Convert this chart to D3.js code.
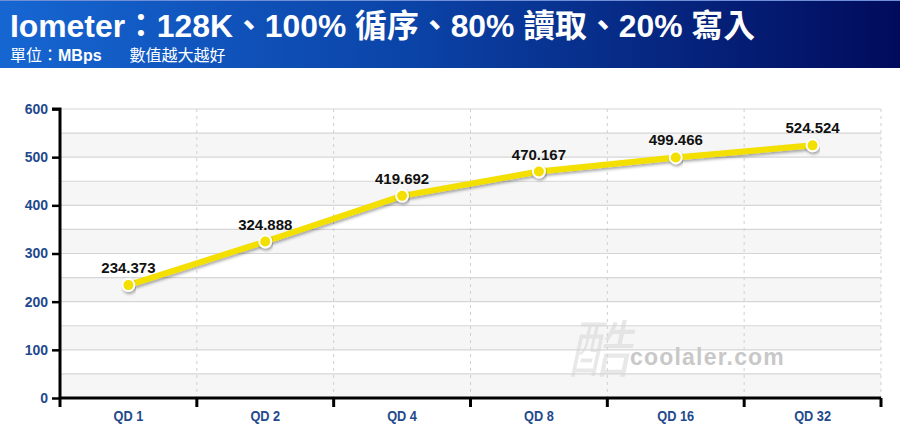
<!DOCTYPE html>
<html><head><meta charset="utf-8">
<script src="https://cdn.jsdelivr.net/npm/d3@7/dist/d3.min.js"></script>
<style>
body{margin:0;background:#fff;}
svg{display:block;}
</style></head>
<body>
<svg id="chart" width="900" height="430"></svg>
<script>
const categories = ["QD 1","QD 2","QD 4","QD 8","QD 16","QD 32"];
const values = [234.373, 324.888, 419.692, 470.167, 499.466, 524.524];
const yTicks = [0,100,200,300,400,500,600];
const titleText = "Iometer：128K、100% 循序、80% 讀取、20% 寫入";
const subtitleA = "單位：";
const subtitleB = "MBps";
const subtitleC = "數值越大越好";

const svg = d3.select("#chart");
const W = 900, H = 430;
const m = {left:60, right:19, top:109, bottom:32};
const iw = W - m.left - m.right, ih = H - m.top - m.bottom;
const FONT = "'Liberation Sans',Arial,'Noto Sans CJK TC',sans-serif";

const defs = svg.append("defs");
const grad = defs.append("linearGradient").attr("id","hdr").attr("x1","0").attr("x2","1").attr("y1","0").attr("y2","0");
grad.append("stop").attr("offset","0%").attr("stop-color","#1666d2");
grad.append("stop").attr("offset","45%").attr("stop-color","#0b44a8");
grad.append("stop").attr("offset","100%").attr("stop-color","#010b5c");
const sh = defs.append("filter").attr("id","shadow").attr("x","-10%").attr("y","-50%").attr("width","120%").attr("height","200%");
sh.append("feDropShadow").attr("dx",1).attr("dy",2).attr("stdDeviation",1.5).attr("flood-color","#000").attr("flood-opacity",0.35);

// header
svg.append("rect").attr("x",0).attr("y",0).attr("width",W).attr("height",68).attr("fill","url(#hdr)");
svg.append("rect").attr("x",0).attr("y",0).attr("width",W).attr("height",1).attr("fill","#6f8fd8");
svg.append("text").attr("x",10).attr("y",37).attr("fill","#fff")
  .attr("font-family",FONT).attr("font-weight","bold").attr("font-size",32)
  .attr("textLength",745).attr("lengthAdjust","spacingAndGlyphs").text(titleText);
const st = svg.append("text").attr("x",10).attr("y",61).attr("fill","#fff")
  .attr("font-family",FONT).attr("font-size",16);
st.append("tspan").text(subtitleA);
st.append("tspan").attr("font-weight","bold").text(subtitleB);
st.append("tspan").attr("dx",28).text(subtitleC);

const x = d3.scaleBand().domain(categories).range([m.left, m.left+iw]).padding(0);
const y = d3.scaleLinear().domain([0,600]).range([m.top+ih, m.top]);

const g = svg.append("g");
const bandStarts = d3.range(0,600,100);
g.selectAll("rect.band").data(bandStarts).enter().append("rect")
  .attr("x",m.left).attr("width",iw)
  .attr("y",d=>y(d+50)).attr("height",d=>y(d)-y(d+50))
  .attr("fill","#f6f6f6");
g.selectAll("line.hg").data(d3.range(50,601,50)).enter().append("line")
  .attr("x1",m.left).attr("x2",m.left+iw).attr("y1",d=>y(d)).attr("y2",d=>y(d))
  .attr("stroke","#d6d6d6").attr("stroke-width",1.2);
g.selectAll("line.vg").data(categories.slice(1).concat(["end"])).enter().append("line")
  .attr("x1",d=>d==="end"?m.left+iw:x(d)).attr("x2",d=>d==="end"?m.left+iw:x(d))
  .attr("y1",m.top).attr("y2",m.top+ih)
  .attr("stroke","#d0d0d0").attr("stroke-dasharray","3,4").attr("stroke-width",1);

// watermark
svg.append("text").attr("x",630).attr("y",365).attr("fill","#c8c8c8")
  .attr("font-family",FONT).attr("font-weight","bold")
  .attr("font-size",23).attr("letter-spacing",1.2).text("coolaler.com");
svg.append("text").attr("x",572).attr("y",372).attr("fill","#d6d6d6")
  .attr("font-family","'Noto Sans CJK TC',sans-serif").attr("font-size",62)
  .attr("transform","skewX(-12) translate(75,0)").attr("opacity",0.55).text("酷");

// Y axis
const yAxis = d3.axisLeft(y).tickValues(yTicks).tickSize(8).tickPadding(4);
const ya = svg.append("g").attr("transform",`translate(${m.left},0)`).call(yAxis);
ya.select(".domain").attr("stroke","#000").attr("stroke-width",3).attr("d",`M-8,${m.top}H0V${m.top+ih}`);
ya.selectAll(".tick line").attr("stroke","#000").attr("stroke-width",2.5);
ya.selectAll(".tick text").attr("fill","#1f4a8c").attr("font-family",FONT)
  .attr("font-weight","bold").attr("font-size",14);

// X axis
const xAxis = d3.axisBottom(x).tickSize(0).tickPadding(12);
const xa = svg.append("g").attr("transform",`translate(0,${m.top+ih})`).call(xAxis);
xa.select(".domain").attr("stroke","#000").attr("stroke-width",3).attr("d",`M${m.left},0H${m.left+iw}`);
xa.selectAll(".tick text").attr("fill","#1f4a8c").attr("font-family",FONT)
  .attr("font-weight","bold").attr("font-size",15)
  .attr("transform","scale(0.85,1)");
const bounds = categories.map(c=>x(c)).concat([m.left+iw]);
xa.selectAll("line.bt").data(bounds).enter().append("line")
  .attr("x1",d=>d).attr("x2",d=>d).attr("y1",0).attr("y2",9)
  .attr("stroke","#000").attr("stroke-width",3);

// line
const pts = categories.map((c,i)=>({c, v:values[i]}));
const line = d3.line().x(d=>x(d.c)+x.bandwidth()/2).y(d=>y(d.v));
svg.append("path").datum(pts).attr("d",line).attr("fill","none")
  .attr("stroke","#f3df00").attr("stroke-width",6).attr("stroke-linejoin","round")
  .attr("filter","url(#shadow)");
svg.selectAll("circle.pt").data(pts).enter().append("circle")
  .attr("cx",d=>x(d.c)+x.bandwidth()/2).attr("cy",d=>y(d.v)).attr("r",6)
  .attr("fill","#f3df00").attr("stroke","#fff").attr("stroke-width",2)
  .attr("filter","url(#shadow)");
svg.selectAll("text.lbl").data(pts).enter().append("text")
  .attr("x",d=>x(d.c)+x.bandwidth()/2).attr("y",d=>y(d.v)-12)
  .attr("text-anchor","middle").attr("fill","#111")
  .attr("font-family",FONT).attr("font-weight","bold").attr("font-size",15)
  .text(d=>d.v.toFixed(3));
</script>
</body></html>
